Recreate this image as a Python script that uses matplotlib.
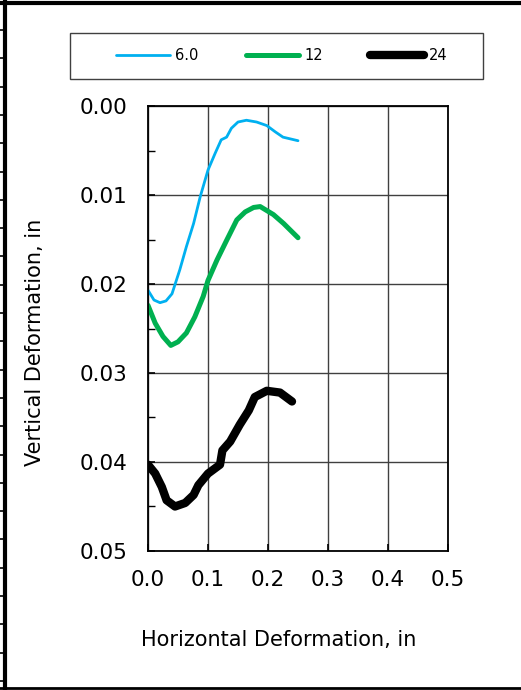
import matplotlib
matplotlib.use('Agg')
import matplotlib.pyplot as plt
import numpy as np
from matplotlib.lines import Line2D
from matplotlib.patches import Rectangle

# horizontal / vertical deformation (in)
x_6 = [0.0, 0.01, 0.02, 0.03, 0.04, 0.053, 0.064, 0.076, 0.087, 0.1, 0.112,
       0.122, 0.131, 0.139, 0.15, 0.164, 0.181, 0.198, 0.212, 0.225, 0.25]
y_6 = [0.0207, 0.0218, 0.0221, 0.0219, 0.0211, 0.0184, 0.0158, 0.0132,
       0.0102, 0.0072, 0.0053, 0.0038, 0.0035, 0.0025, 0.0018, 0.0016,
       0.0018, 0.0022, 0.0029, 0.0035, 0.0039]

x_12 = [0.0, 0.012, 0.025, 0.038, 0.05, 0.064, 0.078, 0.092, 0.1, 0.115,
        0.131, 0.148, 0.162, 0.176, 0.187, 0.209, 0.226, 0.25]
y_12 = [0.0224, 0.0244, 0.0259, 0.0269, 0.0265, 0.0255, 0.0237, 0.0214,
        0.0196, 0.0173, 0.0151, 0.0128, 0.0119, 0.0114, 0.0113, 0.0122,
        0.0132, 0.0148]

x_24 = [0.0, 0.012, 0.023, 0.031, 0.045, 0.062, 0.076, 0.084, 0.1, 0.12,
        0.124, 0.137, 0.153, 0.168, 0.178, 0.198, 0.22, 0.24]
y_24 = [0.0403, 0.0413, 0.0428, 0.0443, 0.045, 0.0446, 0.0437, 0.0426,
        0.0413, 0.0403, 0.0387, 0.0377, 0.0358, 0.0342, 0.0327, 0.032,
        0.0322, 0.0332]

labels = ['6.0', '12', '24']
colors = ['#00b0f0', '#00b050', '#000000']
widths = [2.0, 3.6, 6.0]

fig = plt.figure(figsize=(5.21, 6.9), dpi=100)
ax = fig.add_axes([148 / 521, 1 - 551 / 690, 300 / 521, 445 / 690])

handles = []
for xs, ys, lab, c, w in zip([x_6, x_12, x_24], [y_6, y_12, y_24],
                             labels, colors, widths):
    h, = ax.plot(xs, ys, color=c, lw=w, label=lab, solid_capstyle='round',
                 solid_joinstyle='round')
    handles.append(h)

ax.set_xlim(0, 0.5)
ax.set_ylim(0.05, 0.0)
ax.set_xticks(np.arange(0, 0.51, 0.1))
ax.set_yticks(np.arange(0, 0.051, 0.01))
ax.set_yticks(np.arange(0.005, 0.05, 0.01), minor=True)
ax.xaxis.set_major_formatter(plt.FormatStrFormatter('%.1f'))
ax.yaxis.set_major_formatter(plt.FormatStrFormatter('%.2f'))
ax.grid(True, which='major', color='#404040', lw=1.0)
ax.tick_params(axis='both', which='major', direction='in', length=5,
               width=1.2, labelsize=15.5, colors='black')
ax.tick_params(axis='y', which='major', pad=15)
ax.tick_params(axis='x', which='major', pad=14)
ax.tick_params(axis='y', which='minor', direction='in', length=5, width=1.0)
ax.tick_params(top=False, right=False)
for s in ax.spines.values():
    s.set_linewidth(1.3)
    s.set_color('black')
ax.set_axisbelow(True)

fig.text(279 / 521, 1 - 640 / 690, 'Horizontal Deformation, in',
         ha='center', va='center', fontsize=15)
fig.text(35 / 521, 1 - 342 / 690, 'Vertical Deformation, in',
         ha='center', va='center', fontsize=15, rotation=90)

# legend box
fig.add_artist(Rectangle((70 / 521, 1 - 79 / 690), 413 / 521, 46 / 690,
                         transform=fig.transFigure, fill=False,
                         edgecolor='#404040', lw=1.0))
fig.legend(handles=handles, labels=labels, loc='center',
           bbox_to_anchor=(282 / 521, 1 - 56 / 690), ncol=3, frameon=False,
           fontsize=10.5, handlelength=3.7, handletextpad=0.35,
           columnspacing=3.2)

# outer frame lines
fig.add_artist(Line2D([0, 1], [1 - 3 / 690, 1 - 3 / 690], color='black',
                      lw=3, transform=fig.transFigure))
fig.add_artist(Line2D([0, 1], [1 - 688 / 690, 1 - 688 / 690], color='black',
                      lw=2, transform=fig.transFigure))
fig.add_artist(Line2D([5 / 521, 5 / 521], [0, 1], color='black', lw=3,
                      transform=fig.transFigure))
for yy in np.arange(30, 690, 28.3):
    fig.add_artist(Line2D([0, 5 / 521], [1 - yy / 690, 1 - yy / 690],
                          color='black', lw=1.2, transform=fig.transFigure))

fig.savefig('out.png', dpi=100)
